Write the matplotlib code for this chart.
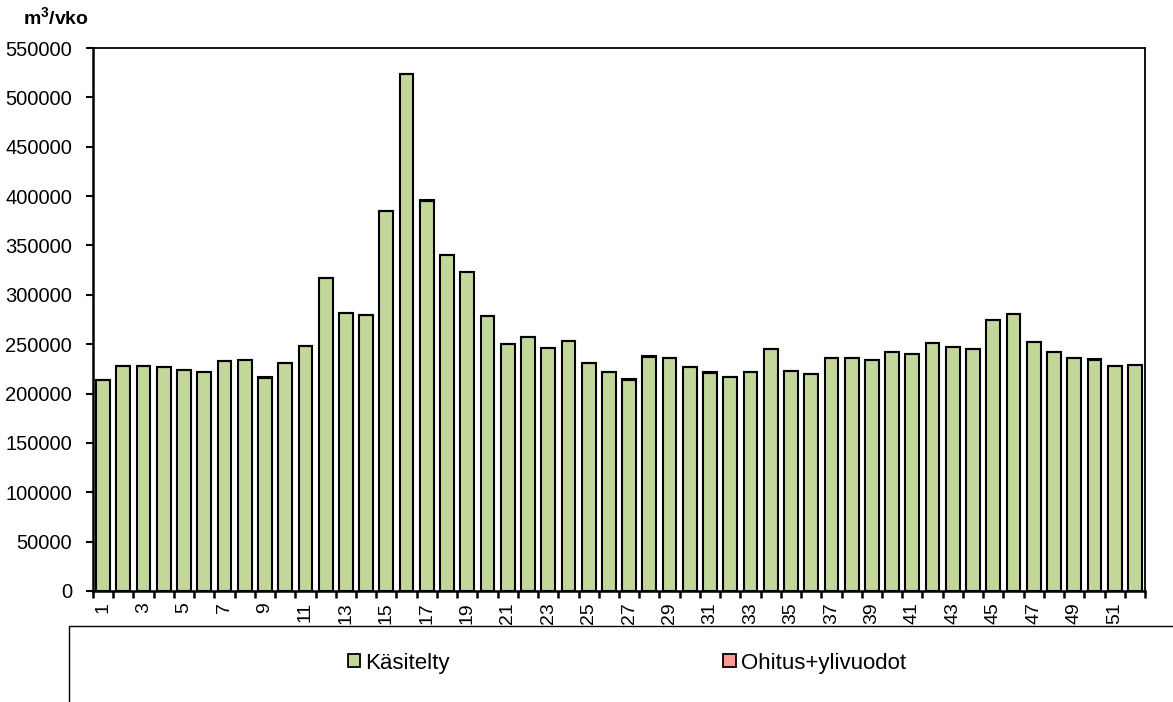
import matplotlib
matplotlib.use("Agg")
import matplotlib.pyplot as plt
from matplotlib.patches import Rectangle, Patch

plt.rcParams['font.family'] = ['Liberation Sans', 'DejaVu Sans']
plt.rcParams['mathtext.fontset'] = 'custom'
plt.rcParams['mathtext.rm'] = 'Liberation Sans'
plt.rcParams['mathtext.bf'] = 'Liberation Sans:bold'

weeks = list(range(1, 53))

# Weekly totals (m3/week), treated + bypass/overflow
total = [
    213700, 227900, 227900, 227200, 223900, 222000, 233300, 234000, 217000, 230600,
    248000, 317400, 281900, 279600, 385200, 523700, 396000, 340300, 323400, 278900,
    250200, 257000, 246500, 253500, 231300, 221500, 214700, 238000, 236000, 226600,
    221500, 216800, 221500, 245100, 222800, 219800, 235700, 235700, 234400, 242000,
    240300, 250800, 247400, 245400, 274800, 280900, 251900, 242000, 236000, 234700,
    228200, 228600,
]

# Bypass + overflow volumes (m3/week)
ohitus = [
    0, 0, 0, 0, 500, 0, 0, 0, 800, 0,
    0, 0, 0, 0, 0, 500, 900, 0, 0, 0,
    0, 0, 0, 0, 0, 0, 800, 600, 0, 0,
    600, 0, 0, 0, 0, 0, 0, 0, 0, 0,
    0, 0, 0, 0, 0, 0, 0, 0, 0, 800,
    0, 0,
]

kasitelty = [t - o for t, o in zip(total, ohitus)]

green = '#C4D79B'
pink = '#FF9999'

fig = plt.figure(figsize=(11.73, 7.02), dpi=100)
ax = fig.add_axes([93 / 1173, 111 / 702, (1145 - 93) / 1173, (591 - 48) / 702])

ax.bar(weeks, kasitelty, width=0.68, color=green, edgecolor='black', linewidth=1.5,
       label='Käsitelty', zorder=2)
ax.bar(weeks, ohitus, bottom=kasitelty, width=0.68, color=pink, edgecolor='black',
       linewidth=1.5, label='Ohitus+ylivuodot', zorder=2)

ax.set_xlim(0.5, 52.5)
ax.set_ylim(0, 550000)
ax.set_yticks(range(0, 550001, 50000))
ax.set_yticklabels([str(v) for v in range(0, 550001, 50000)], fontsize=14.5)
ax.tick_params(axis='y', direction='out', length=5, width=1.5, pad=10)

ax.set_xticks(weeks)
ax.set_xticklabels([str(w) if w % 2 == 1 else '' for w in weeks], rotation=90,
                   fontsize=14)
ax.tick_params(axis='x', which='major', length=0, pad=8)
ax.set_xticks([w + 0.5 for w in range(0, 53)], minor=True)
ax.tick_params(axis='x', which='minor', direction='out', length=5, width=1.8)

for side in ('left', 'bottom'):
    ax.spines[side].set_linewidth(1.8)
for side in ('top', 'right'):
    ax.spines[side].set_linewidth(1.3)

fig.text(23 / 1173, 1 - 17 / 702, r'$\mathbf{m^3}$/vko', fontsize=14, fontweight='bold',
         ha='left', va='center')

# Legend frame running off the lower right of the figure
frame = Rectangle((69 / 1173, -0.2), 1.2, 0.2 + (702 - 626) / 702,
                  transform=fig.transFigure, fill=False, edgecolor='black',
                  linewidth=1.0, clip_on=False)
fig.add_artist(frame)

handles = [Patch(facecolor=green, edgecolor='black', linewidth=1.3),
           Patch(facecolor=pink, edgecolor='black', linewidth=1.3)]
fig.legend(handles, ['Käsitelty', 'Ohitus+ylivuodot'], ncol=2, frameon=False,
           loc='center', bbox_to_anchor=(627 / 1173, 1 - 663 / 702),
           fontsize=16, handlelength=0.55, handleheight=0.55, handletextpad=0.25,
           columnspacing=12.3)

fig.savefig('out.png', dpi=100)
